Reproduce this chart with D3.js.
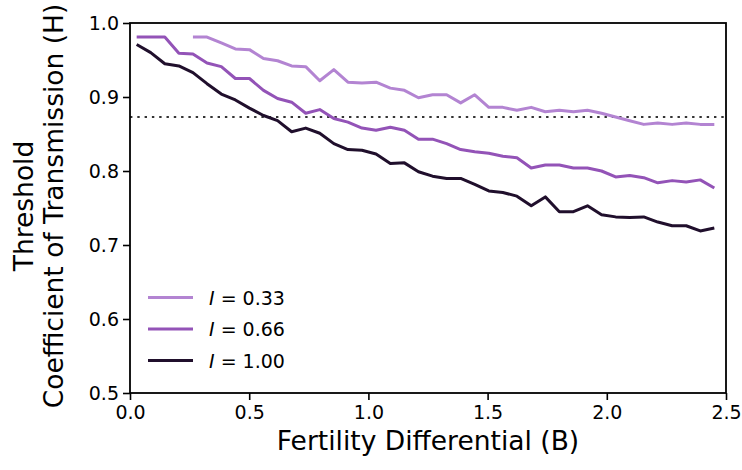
<!DOCTYPE html>
<html>
<head>
<meta charset="utf-8">
<script src="https://cdn.jsdelivr.net/npm/d3@7"></script>
<style>
  body { margin: 0; background: #fff; }
  text { font-family: "DejaVu Sans", sans-serif; fill: #000; }
</style>
</head>
<body>
<div id="chart"></div>
<script>
// Fertility differential (B) sample points.
const fertility = [0.028, 0.087, 0.146, 0.205, 0.264, 0.323, 0.383, 0.442, 0.501, 0.560,
                   0.619, 0.678, 0.737, 0.796, 0.855, 0.914, 0.973, 1.032, 1.092, 1.151,
                   1.210, 1.269, 1.328, 1.387, 1.446, 1.505, 1.564, 1.623, 1.683, 1.742,
                   1.801, 1.860, 1.919, 1.978, 2.037, 2.096, 2.155, 2.214, 2.274, 2.333,
                   2.392, 2.451];

// Threshold coefficient of transmission (H) for each I.
const h033 = [null, null, null, null, 0.981, 0.981, 0.973, 0.965, 0.964, 0.952,
              0.949, 0.942, 0.941, 0.922, 0.937, 0.920, 0.919, 0.920, 0.912, 0.909,
              0.899, 0.903, 0.903, 0.892, 0.903, 0.886, 0.886, 0.882, 0.886, 0.880,
              0.882, 0.880, 0.882, 0.878, 0.873, 0.868, 0.863, 0.865, 0.863, 0.865,
              0.863, 0.863];
const h066 = [0.981, 0.981, 0.981, 0.959, 0.958, 0.946, 0.941, 0.925, 0.925, 0.909,
              0.898, 0.893, 0.878, 0.883, 0.871, 0.866, 0.858, 0.855, 0.859, 0.855,
              0.843, 0.843, 0.837, 0.829, 0.826, 0.824, 0.820, 0.818, 0.804, 0.808,
              0.808, 0.804, 0.804, 0.800, 0.792, 0.794, 0.791, 0.784, 0.787, 0.785,
              0.788, 0.777];
const h100 = [0.971, 0.960, 0.945, 0.942, 0.933, 0.918, 0.904, 0.896, 0.885, 0.875,
              0.868, 0.853, 0.858, 0.851, 0.837, 0.829, 0.828, 0.823, 0.810, 0.811,
              0.799, 0.793, 0.790, 0.790, 0.782, 0.773, 0.771, 0.766, 0.753, 0.765,
              0.745, 0.745, 0.753, 0.741, 0.738, 0.737, 0.738, 0.731, 0.726, 0.726,
              0.719, 0.723];

const seriesNames = ['0.33', '0.66', '1.00'];
const seriesColors = ['#b384d2', '#9353b7', '#200f2c'];
const thresholdH = 0.873;

const xTicks = [0.0, 0.5, 1.0, 1.5, 2.0, 2.5];
const yTicks = [0.5, 0.6, 0.7, 0.8, 0.9, 1.0];

let margin = { top: 23, right: 16, bottom: 77, left: 130 },
    width = 742 - margin.left - margin.right,
    height = 470 - margin.top - margin.bottom;

let svg = d3.select('#chart')
            .append('svg')
            .attr('width', 742)
            .attr('height', 470)
            .append('g')
            .attr('transform', `translate(${margin.left},${margin.top})`);

let x = d3.scaleLinear()
          .domain([0, 2.5])
          .range([0, width]);

let y = d3.scaleLinear()
          .domain([0.5, 1.0])
          .range([height, 0]);

// Axes.
let xAxis = svg.append('g')
               .attr('transform', `translate(0,${height})`)
               .call(d3.axisBottom(x)
                       .tickValues(xTicks)
                       .tickFormat(d3.format('.1f'))
                       .tickSize(7)
                       .tickPadding(6));

let yAxis = svg.append('g')
               .call(d3.axisLeft(y)
                       .tickValues(yTicks)
                       .tickFormat(d3.format('.1f'))
                       .tickSize(7)
                       .tickPadding(4));

[xAxis, yAxis].forEach((axis) => {
  axis.select('.domain').remove();
  axis.selectAll('line').attr('stroke', '#000').attr('stroke-width', 1.6);
  axis.selectAll('text').style('font-size', '19px').attr('fill', '#000');
});

// Threshold reference line.
svg.append('line')
   .attr('x1', 0)
   .attr('x2', width)
   .attr('y1', y(thresholdH))
   .attr('y2', y(thresholdH))
   .attr('stroke', '#333')
   .attr('stroke-width', 2)
   .attr('stroke-dasharray', '2.4,4.9');

// Data lines.
let series = [h033, h066, h100];
let line = d3.line()
             .defined((d) => d != null)
             .x((d, i) => x(fertility[i]))
             .y((d) => y(d));

series.forEach((values, k) => {
  svg.append('path')
     .datum(values)
     .attr('fill', 'none')
     .attr('stroke', seriesColors[k])
     .attr('stroke-width', 3)
     .attr('stroke-linejoin', 'round')
     .attr('d', line);
});

// Frame.
svg.append('rect')
   .attr('width', width)
   .attr('height', height)
   .attr('fill', 'none')
   .attr('stroke', '#000')
   .attr('stroke-width', 1.8);

// Legend.
let legend = svg.append('g')
                .attr('transform', 'translate(18,274.5)');

seriesNames.forEach((name, k) => {
  let row = legend.append('g')
                  .attr('transform', `translate(0,${k * 31.5})`);
  row.append('line')
     .attr('x1', 0)
     .attr('x2', 45)
     .attr('stroke', seriesColors[k])
     .attr('stroke-width', 3);
  let label = row.append('text')
                 .attr('x', 61)
                 .attr('y', 7)
                 .style('font-size', '19px');
  label.append('tspan').style('font-style', 'italic').text('I');
  label.append('tspan').text(' = ' + name);
});

// Axis labels.
svg.append('text')
   .attr('text-anchor', 'middle')
   .attr('x', width / 2)
   .attr('y', height + 57)
   .style('font-size', '26.5px')
   .text('Fertility Differential (B)');

let yLabel = svg.append('text')
                .attr('text-anchor', 'middle')
                .attr('transform', 'rotate(-90)')
                .style('font-size', '26.5px');

yLabel.append('tspan')
      .attr('x', -height / 2 + 2)
      .attr('y', -97)
      .text('Threshold');

yLabel.append('tspan')
      .attr('x', -height / 2 + 2)
      .attr('y', -67)
      .text('Coefficient of Transmission (H)');
</script>
</body>
</html>
